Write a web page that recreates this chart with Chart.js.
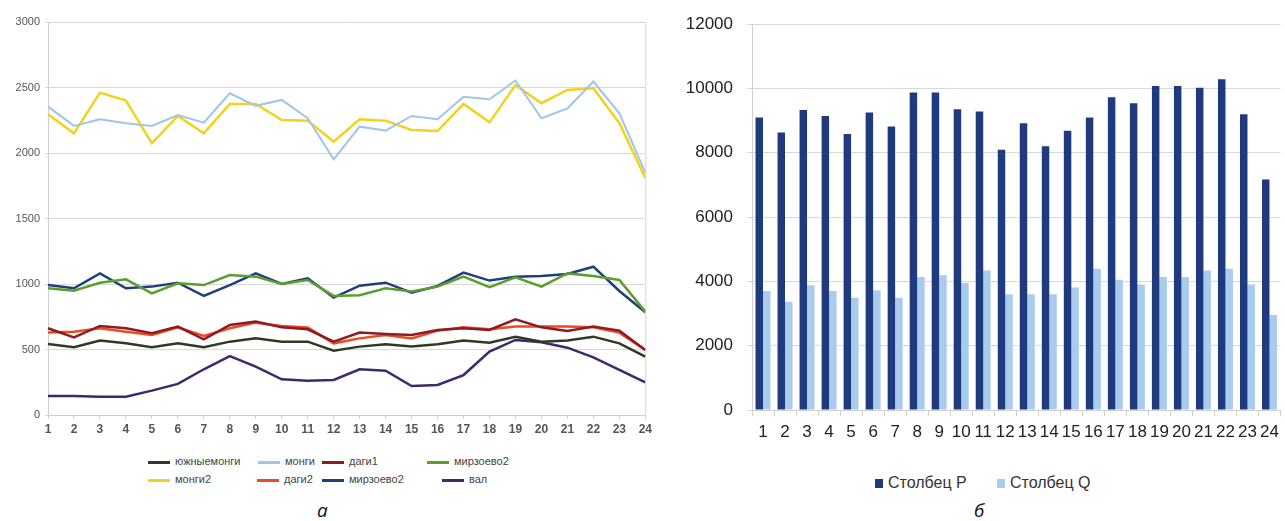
<!DOCTYPE html>
<html>
<head>
<meta charset="utf-8">
<script src="https://cdn.jsdelivr.net/npm/chart.js@4.4.0/dist/chart.umd.min.js"></script>
<style>
  body { margin:0; background:#fff; width:1285px; height:521px; overflow:hidden; position:relative; font-family:"Liberation Sans", Arial, sans-serif; }
  .box { position:absolute; }
  .lg { position:absolute; font-family:"Liberation Sans Narrow","Liberation Sans",sans-serif; font-size:11px; color:#444; white-space:nowrap; }
  .lg i { display:inline-block; width:22px; height:3px; vertical-align:middle; margin-right:5px; }
  .lg2 { position:absolute; font-size:16px; color:#333; white-space:nowrap; }
  .lg2 i { display:inline-block; width:8px; height:9px; margin-right:5px; vertical-align:0px; }
  .cap { position:absolute; font-family:"Open Sans",sans-serif; font-style:italic; font-size:19px; color:#111; }
</style>
</head>
<body>
<div class="box" style="left:0;top:0;width:655px;height:445px"><canvas id="lines"></canvas></div>
<div class="box" style="left:665px;top:0;width:620px;height:445px"><canvas id="bars"></canvas></div>
<div id="legendA"></div>
<div id="legendB"></div>
<div class="cap" style="left:317px;top:497px">а</div>
<div class="cap" style="left:974px;top:497px">б</div>
<script>
// --- data ---
var hours = ["1","2","3","4","5","6","7","8","9","10","11","12","13","14","15","16","17","18","19","20","21","22","23","24"]

var yuzhnyemongi = [542,517,568,547,517,547,517,560,585,560,560,491,522,540,522,540,568,552,598,560,568,598,547,445]
var mongi = [2354,2207,2258,2227,2207,2290,2232,2456,2360,2405,2265,1952,2201,2171,2283,2258,2430,2410,2553,2265,2341,2545,2303,1850]
var dagi1 = [662,593,680,662,624,675,578,687,713,669,654,560,629,618,611,649,662,649,730,669,641,675,644,496]
var mirzoevoGreen = [967,949,1010,1036,929,1005,992,1069,1056,1000,1031,909,914,967,942,980,1056,975,1051,980,1081,1061,1031,789]
var mongi2 = [2296,2150,2461,2400,2074,2283,2150,2374,2374,2252,2247,2087,2258,2247,2176,2168,2374,2234,2520,2380,2481,2494,2227,1810]
var dagi2 = [629,636,662,636,611,669,603,662,705,680,669,547,585,611,585,644,669,654,675,675,675,669,629,496]
var mirzoevoBlue = [992,967,1081,967,980,1010,909,992,1081,1000,1043,896,987,1010,934,985,1087,1026,1056,1061,1076,1132,947,784]
var val = [145,145,140,140,186,237,349,450,369,272,262,267,349,338,221,229,305,484,573,555,514,440,344,249]

var stolbecP = [9096,8633,9333,9148,8582,9251,8819,9878,9878,9354,9282,8098,8921,8201,8685,9096,9724,9539,10074,10074,10022,10290,9199,7172]
var stolbecQ = [3704,3365,3879,3704,3488,3725,3488,4137,4188,3951,4342,3601,3601,3601,3807,4394,4054,3900,4137,4137,4342,4394,3900,2953]

var lineSeries = [
  {name:"южныемонги", data:yuzhnyemongi, color:"#2e3a22", w:2.5},
  {name:"монги", data:mongi, color:"#9fc5e8", w:2},
  {name:"даги1", data:dagi1, color:"#8e1b22", w:2.5},
  {name:"мирзоево2", data:mirzoevoGreen, color:"#5c9e2e", w:2.5},
  {name:"монги2", data:mongi2, color:"#f2d21b", w:2.5},
  {name:"даги2", data:dagi2, color:"#ec4a25", w:2.5},
  {name:"мирзоево2", data:mirzoevoBlue, color:"#1f3f7c", w:2.5},
  {name:"вал", data:val, color:"#40296b", w:2.5}
]

// frame on the right side of the plot
var frame = {
  id:"frame",
  afterDraw(c){
    var a = c.chartArea, x = c.ctx
    x.save(); x.strokeStyle = "#d4d4d4"; x.lineWidth = 1
    x.beginPath(); x.moveTo(a.right+0.5, a.top); x.lineTo(a.right+0.5, a.bottom); x.stroke()
    x.restore()
  }
}

var plain = function(v){ return String(v) }

new Chart(document.getElementById("lines"), {
  type:"line",
  data:{
    labels:hours,
    datasets:lineSeries.map(s=>({label:s.name, data:s.data, borderColor:s.color, backgroundColor:s.color, borderWidth:s.w, pointRadius:0, tension:0}))
  },
  options:{
    responsive:true, maintainAspectRatio:false, animation:false,
    layout:{padding:{top:22, right:7, bottom:0, left:0}},
    plugins:{legend:{display:false}, tooltip:{enabled:false}},
    scales:{
      x:{
        afterFit(s){ s.height = 30 },
        grid:{display:true, drawOnChartArea:false, tickLength:4, color:"#cfcfcf"},
        border:{color:"#cfcfcf"},
        ticks:{color:"#555", font:{family:"Liberation Sans", size:12, weight:"bold"}, padding:3, maxRotation:0, autoSkip:false}
      },
      y:{
        min:0, max:3000,
        afterFit(s){ s.width = 48 },
        grid:{color:"#d8d8d8", tickLength:3},
        border:{color:"#cfcfcf"},
        ticks:{stepSize:500, color:"#555", font:{family:"Liberation Sans", size:11}, padding:5, callback:plain}
      }
    }
  },
  plugins:[frame]
})

new Chart(document.getElementById("bars"), {
  type:"bar",
  data:{
    labels:hours,
    datasets:[
      {label:"Столбец P", data:stolbecP, backgroundColor:"#1f3a7d"},
      {label:"Столбец Q", data:stolbecQ, backgroundColor:"#a9cbee"}
    ]
  },
  options:{
    responsive:true, maintainAspectRatio:false, animation:false,
    layout:{padding:{top:22, right:2, bottom:0, left:0}},
    plugins:{legend:{display:false}, tooltip:{enabled:false}},
    datasets:{bar:{categoryPercentage:0.68, barPercentage:1.0}},
    scales:{
      x:{
        afterFit(s){ s.height = 35 },
        grid:{display:true, drawOnChartArea:false, offset:true, tickLength:6, color:"#cfcfcf"},
        border:{color:"#cfcfcf"},
        ticks:{color:"#222", font:{family:"Liberation Sans", size:17}, padding:6, maxRotation:0, autoSkip:false}
      },
      y:{
        min:0, max:12000,
        afterFit(s){ s.width = 87 },
        grid:{color:"#d8d8d8", tickLength:5},
        border:{color:"#cfcfcf"},
        ticks:{stepSize:2000, color:"#222", font:{family:"Liberation Sans", size:17}, padding:14, callback:plain}
      }
    }
  }
})

// legends as html so they sit in the same grid as the picture
var posA = [[148,455],[258,455],[322,455],[427,455],[148,473],[257,473],[322,473],[442,473]]
var la = document.getElementById("legendA")
lineSeries.forEach(function(s,i){
  var d = document.createElement("div")
  d.className = "lg"
  d.style.left = posA[i][0]+"px"; d.style.top = posA[i][1]+"px"
  d.innerHTML = '<i style="background:'+s.color+'"></i>'+s.name
  la.appendChild(d)
})
var lb = document.getElementById("legendB")
;[["Столбец P","#1f3a7d",875],["Столбец Q","#a9cbee",997]].forEach(function(s){
  var d = document.createElement("div")
  d.className = "lg2"
  d.style.left = s[2]+"px"; d.style.top = "474px"
  d.innerHTML = '<i style="background:'+s[1]+'"></i>'+s[0]
  lb.appendChild(d)
})
</script>
</body>
</html>
